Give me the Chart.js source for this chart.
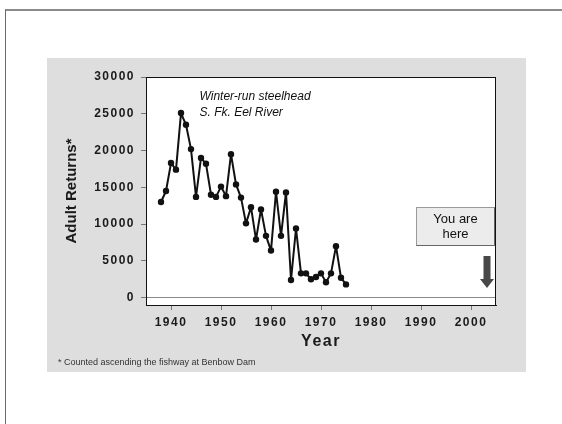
<!DOCTYPE html>
<html>
<head>
<meta charset="utf-8">
<script src="https://cdn.jsdelivr.net/npm/chart.js@4.4.1/dist/chart.umd.min.js"></script>
<style>
  html, body { margin: 0; padding: 0; background: #fff; }
  body { width: 562px; height: 424px; overflow: hidden; position: relative; font-family: Arial, "Liberation Sans", sans-serif; }
  #frame { position: absolute; left: 5px; top: 9px; width: 620px; height: 480px; border-left: 1px solid #6a6a6a; border-top: 2px solid #8a8a8a; }
  #panel { position: absolute; left: 47px; top: 58px; width: 479px; height: 314px; background: #dedede; }
  #chart { display: block; }
</style>
</head>
<body>
<div id="frame"></div>
<div id="panel"><canvas id="chart" width="479" height="314"></canvas></div>
<script>
// winter-run steelhead counted at Benbow Dam, S. Fk. Eel River
const years = [1938, 1939, 1940, 1941, 1942, 1943, 1944, 1945, 1946, 1947,
               1948, 1949, 1950, 1951, 1952, 1953, 1954, 1955, 1956, 1957,
               1958, 1959, 1960, 1961, 1962, 1963, 1964, 1965, 1966, 1967,
               1968, 1969, 1970, 1971, 1972, 1973, 1974, 1975]
const adultReturns = [13000, 14500, 18300, 17400, 25100, 23500, 20200, 13700, 19000, 18200,
                      14000, 13700, 15100, 13800, 19500, 15400, 13600, 10100, 12300, 7900,
                      12000, 8400, 6400, 14400, 8400, 14300, 2400, 9400, 3300, 3300,
                      2500, 2800, 3300, 2100, 3300, 7000, 2700, 1800]
const yearTicks = [1940, 1950, 1960, 1970, 1980, 1990, 2000]
const returnTicks = [0, 5000, 10000, 15000, 20000, 25000, 30000]

const titleLines = ['Winter-run steelhead', 'S. Fk. Eel River']
const hereLines = ['You are', 'here']
const footnote = '* Counted ascending the fishway at Benbow Dam'

const FONT = 'Arial, "Liberation Sans", sans-serif'

// white plot area, frame, labels and the "you are here" marker
const slideDecor = {
  id: 'slideDecor',
  beforeDraw(chart) {
    const { ctx, chartArea: a } = chart
    ctx.save()
    ctx.fillStyle = '#fff'
    ctx.fillRect(a.left, a.top, a.right - a.left, a.bottom - a.top)
    ctx.restore()
    // axis numbers are drawn widely spaced
    ctx.letterSpacing = '1.5px'
  },
  beforeDatasetsDraw(chart) {
    chart.ctx.letterSpacing = '0px'
  },
  afterDraw(chart) {
    const { ctx, chartArea: a, scales } = chart
    const xs = scales.x, ys = scales.y
    ctx.save()
    ctx.letterSpacing = '0px'

    // plot frame
    ctx.strokeStyle = '#111'
    ctx.lineWidth = 1
    ctx.strokeRect(Math.round(a.left) + 0.5, Math.round(a.top) + 0.5,
                   Math.round(a.right - a.left) - 1, Math.round(a.bottom - a.top))

    // y axis title
    ctx.save()
    ctx.translate(25, (a.top + a.bottom) / 2)
    ctx.rotate(-Math.PI / 2)
    ctx.font = 'bold 15px ' + FONT
    ctx.fillStyle = '#1a1a1a'
    ctx.textAlign = 'center'
    ctx.textBaseline = 'middle'
    ctx.fillText('Adult Returns*', 0, 0)
    ctx.restore()

    // series caption
    ctx.font = 'italic 12px ' + FONT
    ctx.fillStyle = '#111'
    ctx.textAlign = 'left'
    ctx.textBaseline = 'middle'
    ctx.fillText(titleLines[0], xs.getPixelForValue(1945.7), ys.getPixelForValue(27350))
    ctx.fillText(titleLines[1], xs.getPixelForValue(1945.7), ys.getPixelForValue(25100))

    // "You are here" box
    const bx0 = Math.round(xs.getPixelForValue(1988.9)) + 0.5
    const bx1 = Math.round(xs.getPixelForValue(2004.5)) + 0.5
    const by0 = Math.round(ys.getPixelForValue(12330)) + 0.5
    const by1 = Math.round(ys.getPixelForValue(7200)) + 0.5
    ctx.fillStyle = '#ececec'
    ctx.fillRect(bx0, by0, bx1 - bx0, by1 - by0)
    ctx.strokeStyle = '#9a9a9a'
    ctx.strokeRect(bx0, by0, bx1 - bx0, by1 - by0)
    ctx.strokeStyle = '#666'
    ctx.beginPath()
    ctx.moveTo(bx1, by0)
    ctx.lineTo(bx1, by1)
    ctx.lineTo(bx0, by1)
    ctx.stroke()
    ctx.font = '13px ' + FONT
    ctx.fillStyle = '#111'
    ctx.textAlign = 'center'
    ctx.fillText(hereLines[0], (bx0 + bx1) / 2, by0 + 11.5)
    ctx.fillText(hereLines[1], (bx0 + bx1) / 2, by0 + 26.5)

    // down arrow pointing at the present
    const ax = xs.getPixelForValue(2003.2)
    const aTop = ys.getPixelForValue(5670)
    const aNeck = ys.getPixelForValue(2540)
    const aTip = ys.getPixelForValue(1320)
    ctx.fillStyle = '#484848'
    ctx.beginPath()
    ctx.moveTo(ax - 3.5, aTop)
    ctx.lineTo(ax + 3.5, aTop)
    ctx.lineTo(ax + 3.5, aNeck)
    ctx.lineTo(ax + 7, aNeck)
    ctx.lineTo(ax, aTip)
    ctx.lineTo(ax - 7, aNeck)
    ctx.lineTo(ax - 3.5, aNeck)
    ctx.closePath()
    ctx.fill()

    // footnote
    ctx.font = '9px ' + FONT
    ctx.fillStyle = '#333'
    ctx.textAlign = 'left'
    ctx.fillText(footnote, 11, 305)
    ctx.restore()
  }
}

const ctx = document.getElementById('chart').getContext('2d')
const myChart = new Chart(ctx, {
  type: 'line',
  data: {
    datasets: [{
      data: years.map((yr, i) => ({ x: yr, y: adultReturns[i] })),
      borderColor: '#111',
      borderWidth: 2,
      borderJoinStyle: 'round',
      borderCapStyle: 'round',
      pointRadius: 3.2,
      pointBackgroundColor: '#111',
      pointBorderWidth: 0,
      tension: 0
    }]
  },
  options: {
    responsive: false,
    animation: false,
    layout: { padding: { left: 0, top: 19, right: 30, bottom: 0 } },
    plugins: { legend: { display: false }, tooltip: { enabled: false } },
    scales: {
      x: {
        type: 'linear',
        min: 1935,
        max: 2005,
        afterBuildTicks: (s) => { s.ticks = yearTicks.map(v => ({ value: v })) },
        afterFit: (s) => { s.height = 67 },
        ticks: {
          padding: 5,
          color: '#1a1a1a',
          font: { family: FONT, size: 12, weight: 'bold' },
          maxRotation: 0,
          callback: (v) => String(v)
        },
        grid: { drawOnChartArea: false, tickLength: 5, tickColor: '#777' },
        border: { color: '#111', width: 1 },
        title: {
          display: true,
          text: 'Year',
          color: '#1a1a1a',
          font: { family: FONT, size: 16, weight: 'bold' },
          padding: { top: 0, bottom: 21 }
        }
      },
      y: {
        min: -1000,
        max: 30000,
        afterBuildTicks: (s) => { s.ticks = returnTicks.map(v => ({ value: v })) },
        afterFit: (s) => { s.width = 99 },
        ticks: {
          padding: 6,
          color: '#1a1a1a',
          font: { family: FONT, size: 12, weight: 'bold' },
          callback: (v) => String(v)
        },
        grid: {
          color: (c) => (c.tick && c.tick.value === 0 ? '#8a8a8a' : 'rgba(0,0,0,0)'),
          tickColor: '#777',
          tickLength: 5
        },
        border: { color: '#111', width: 1 }
      }
    }
  },
  plugins: [slideDecor]
})
</script>
</body>
</html>
